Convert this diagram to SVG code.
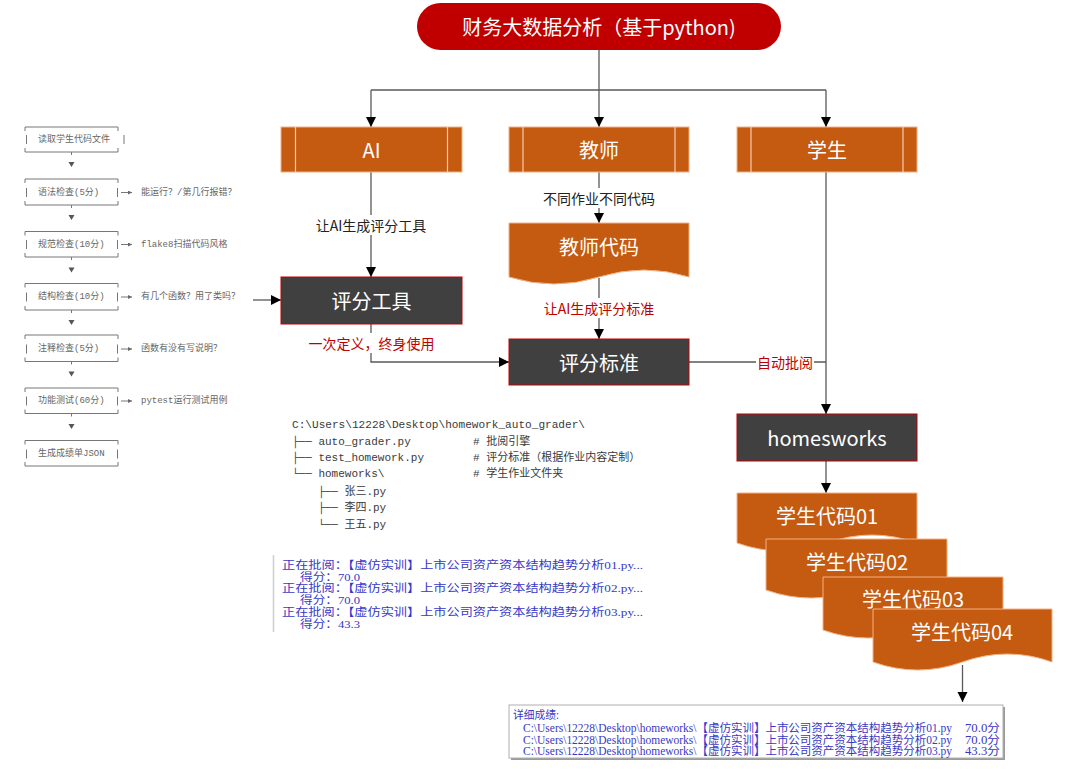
<svg xmlns="http://www.w3.org/2000/svg" width="1080" height="774" viewBox="0 0 1080 774">
<defs>
<style>
.orange{fill:#C55A11;stroke:#F4B183;stroke-width:1}
.inner{stroke:#F8CBAD;stroke-width:1.2;fill:none}
.dark{fill:#404040;stroke:#C00000;stroke-width:1}
.wt{fill:#fff;font-family:"Noto Sans CJK SC","Noto Sans",sans-serif;font-size:20px;text-anchor:middle;dominant-baseline:central}
.conn{stroke:#595959;stroke-width:1.3;fill:none}
.lbl{font-family:"Noto Sans CJK SC",sans-serif;font-size:14px;text-anchor:middle;dominant-baseline:central}
.red{fill:#C00000}
.blk{fill:#222}
.pf{stroke:#777;stroke-width:1;fill:none}
.pft{font-family:"Liberation Mono","Noto Sans CJK SC",monospace;font-size:9px;fill:#666;dominant-baseline:central}
.tree{font-family:"Liberation Mono","DejaVu Sans Mono","Noto Sans CJK SC",monospace;font-size:11px;fill:#3a3a3a;dominant-baseline:central}
.con{font-family:"Liberation Serif","Noto Sans CJK SC",serif;fill:#3838C8;dominant-baseline:central}
</style>
<marker id="arr" markerUnits="userSpaceOnUse" markerWidth="11" markerHeight="11" refX="10" refY="5" orient="auto">
<path d="M0,0 L10,5 L0,10 z" fill="#000"/>
</marker>
<marker id="sarr" markerUnits="userSpaceOnUse" markerWidth="5" markerHeight="5" refX="4" refY="2" orient="auto">
<path d="M0,0 L4,2 L0,4 z" fill="#666"/>
</marker>
</defs>
<rect width="1080" height="774" fill="#fff"/>

<g id="connectors">
<path class="conn" d="M599 50 V90"/>
<path class="conn" d="M371 90 H826"/>
<path class="conn" d="M371 90 V127" marker-end="url(#arr)"/>
<path class="conn" d="M599 90 V127" marker-end="url(#arr)"/>
<path class="conn" d="M826 90 V127" marker-end="url(#arr)"/>
<path class="conn" d="M371 172 V277" marker-end="url(#arr)"/>
<path class="conn" d="M599 172 V223" marker-end="url(#arr)"/>
<path class="conn" d="M599 278 V339" marker-end="url(#arr)"/>
<path class="conn" d="M371 324 V362 H509" marker-end="url(#arr)"/>
<path class="conn" d="M689 362 H826"/>
<path class="conn" d="M826 172 V414" marker-end="url(#arr)"/>
<path class="conn" d="M826 461 V493" marker-end="url(#arr)"/>
<path class="conn" d="M962.5 665 V702" marker-end="url(#arr)"/>
<path class="conn" d="M253 300 H281" marker-end="url(#arr)"/>
<rect x="314" y="215" width="115" height="20" fill="#fff"/>
<text class="lbl blk" x="371" y="225">让AI生成评分工具</text>
<rect x="543" y="188" width="112" height="20" fill="#fff"/>
<text class="lbl blk" x="599" y="198">不同作业不同代码</text>
<rect x="541" y="298" width="116" height="20" fill="#fff"/>
<text class="lbl red" x="599" y="308">让AI生成评分标准</text>
<rect x="309" y="333" width="125" height="20" fill="#fff"/>
<text class="lbl red" x="371.5" y="343">一次定义，终身使用</text>
<rect x="756" y="352" width="58" height="20" fill="#fff"/>
<text class="lbl red" x="785" y="362">自动批阅</text>
</g>

<g id="title">
<rect x="417" y="3" width="364" height="47" rx="23.5" fill="#C00000"/>
<text class="wt" x="599" y="26.5">财务大数据分析（基于python)</text>
</g>

<g id="ai">
<rect class="orange" x="281" y="127" width="181" height="45"/>
<path class="inner" d="M295.5 127 V172 M447.5 127 V172"/>
<text class="wt" x="371.5" y="149.5">AI</text>
</g>
<g id="teacher">
<rect class="orange" x="509" y="127" width="180" height="45"/>
<path class="inner" d="M523 127 V172 M675 127 V172"/>
<text class="wt" x="599" y="149.5">教师</text>
</g>
<g id="student">
<rect class="orange" x="737" y="127" width="180" height="45"/>
<path class="inner" d="M751 127 V172 M903 127 V172"/>
<text class="wt" x="827" y="149.5">学生</text>
</g>

<g id="grading-tool">
<rect class="dark" x="281" y="277" width="181" height="47"/>
<text class="wt" x="371.5" y="300.5">评分工具</text>
</g>
<g id="teacher-code">
<path class="orange" d="M509 223 H689 V277 Q644 263 599 277 Q554 291 509 277 Z"/>
<text class="wt" x="599" y="246.5">教师代码</text>
</g>
<g id="grading-standard">
<rect class="dark" x="509" y="339" width="180" height="46"/>
<text class="wt" x="599" y="362">评分标准</text>
</g>
<g id="homesworks">
<rect class="dark" x="737" y="414" width="180" height="47"/>
<text class="wt" x="827" y="437.5">homesworks</text>
</g>

<g id="student-code-01">
<path class="orange" d="M737 493 H917 V543 Q872 527 827 543 Q782 559 737 543 Z"/>
<text class="wt" x="827" y="515">学生代码01</text>
</g>
<g id="student-code-02">
<path class="orange" d="M766 539 H947 V590 Q901.75 574 856.5 590 Q811.25 606 766 590 Z"/>
<text class="wt" x="857" y="561.5">学生代码02</text>
</g>
<g id="student-code-03">
<path class="orange" d="M823 577 H1003 V630 Q958 614 913 630 Q868 646 823 630 Z"/>
<text class="wt" x="913" y="598">学生代码03</text>
</g>
<g id="student-code-04">
<path class="orange" d="M873 609 H1052 V662 Q1007.25 646 962.5 662 Q917.75 678 873 662 Z"/>
<text class="wt" x="962" y="631.5">学生代码04</text>
</g>

<g id="process-flow">
<g class="pf">
<path d="M25 131 V127 H118 V131 M25 148 V152 H118 V148 M26.5 135 V144 M124 135 V144 M71.5 152 V155"/>
<path d="M25 183 V179 H118 V183 M25 201 V205 H118 V201 M26.5 188 V197 M117.5 188 V197 M71.5 205 V208"/>
<path d="M25 235.5 V231.5 H118 V235.5 M25 253 V257 H118 V253 M26.5 240 V249 M117.5 240 V249 M71.5 257 V260"/>
<path d="M25 287.5 V283.5 H118 V287.5 M25 306 V310 H118 V306 M26.5 292.5 V301.5 M117.5 292.5 V301.5 M71.5 310 V313"/>
<path d="M25 339 V335 H118 V339 M25 357.5 V361.5 H118 V357.5 M26.5 344.5 V353.5 M117.5 344.5 V353.5 M71.5 361.5 V364.5"/>
<path d="M25 392 V388 H118 V392 M25 409.5 V413.5 H118 V409.5 M26.5 396.5 V405.5 M117.5 396.5 V405.5 M71.5 413.5 V416.5"/>
<path d="M25 444.5 V440.5 H118 V444.5 M25 462 V466 H118 V462 M26.5 449.5 V458.5 M117.5 449.5 V458.5"/>
<path d="M121 192.5 H132" marker-end="url(#sarr)"/>
<path d="M121 244.5 H132" marker-end="url(#sarr)"/>
<path d="M121 297 H132" marker-end="url(#sarr)"/>
<path d="M121 349 H132" marker-end="url(#sarr)"/>
<path d="M121 401 H132" marker-end="url(#sarr)"/>
</g>
<g fill="#555">
<path d="M68.5 162 H74.5 L71.5 167 Z"/>
<path d="M68.5 215 H74.5 L71.5 220 Z"/>
<path d="M68.5 267.5 H74.5 L71.5 272.5 Z"/>
<path d="M68.5 320 H74.5 L71.5 325 Z"/>
<path d="M68.5 371.5 H74.5 L71.5 376.5 Z"/>
<path d="M68.5 424 H74.5 L71.5 429 Z"/>
</g>
<text class="pft" x="38" y="140">读取学生代码文件</text>
<text class="pft" x="38" y="192.5">语法检查(5分)</text>
<text class="pft" x="38" y="244.5">规范检查(10分)</text>
<text class="pft" x="38" y="297">结构检查(10分)</text>
<text class="pft" x="38" y="349">注释检查(5分)</text>
<text class="pft" x="38" y="401">功能测试(60分)</text>
<text class="pft" x="38" y="454">生成成绩单JSON</text>
<text class="pft" x="141" y="192.5">能运行？/第几行报错？</text>
<text class="pft" x="141" y="244.5">flake8扫描代码风格</text>
<text class="pft" x="141" y="297">有几个函数？用了类吗？</text>
<text class="pft" x="141" y="349">函数有没有写说明？</text>
<text class="pft" x="141" y="401">pytest运行测试用例</text>
</g>

<g id="file-tree">
<text class="tree" x="292" y="425" textLength="293" lengthAdjust="spacingAndGlyphs">C:\Users\12228\Desktop\homework_auto_grader\</text>
<text class="tree" x="292" y="441.5">├── auto_grader.py</text>
<text class="tree" x="292" y="458">├── test_homework.py</text>
<text class="tree" x="292" y="474">└── homeworks\</text>
<text class="tree" x="318" y="491.5">├── 张三.py</text>
<text class="tree" x="318" y="508">├── 李四.py</text>
<text class="tree" x="318" y="525">└── 王五.py</text>
<text class="tree" x="473" y="441.5"># 批阅引擎</text>
<text class="tree" x="473" y="458"># 评分标准（根据作业内容定制）</text>
<text class="tree" x="473" y="474"># 学生作业文件夹</text>
</g>

<g id="console-run">
<path d="M273.5 555 V632" stroke="#cfcfcf" stroke-width="1.5"/>
<text class="con" font-size="11" x="282" y="565" textLength="361" lengthAdjust="spacingAndGlyphs">正在批阅：【虚仿实训】上市公司资产资本结构趋势分析01.py...</text>
<text class="con" font-size="11" x="300" y="576.7" textLength="60" lengthAdjust="spacingAndGlyphs">得分：70.0</text>
<text class="con" font-size="11" x="282" y="588.4" textLength="361" lengthAdjust="spacingAndGlyphs">正在批阅：【虚仿实训】上市公司资产资本结构趋势分析02.py...</text>
<text class="con" font-size="11" x="300" y="600.1" textLength="60" lengthAdjust="spacingAndGlyphs">得分：70.0</text>
<text class="con" font-size="11" x="282" y="611.8" textLength="361" lengthAdjust="spacingAndGlyphs">正在批阅：【虚仿实训】上市公司资产资本结构趋势分析03.py...</text>
<text class="con" font-size="11" x="300" y="623.5" textLength="60" lengthAdjust="spacingAndGlyphs">得分：43.3</text>
</g>

<g id="console-detail">
<rect x="511" y="707" width="494" height="53" fill="#9a9a9a"/>
<rect x="509" y="705" width="494" height="53" fill="#fff" stroke="#b0b0b0" stroke-width="1"/>
<text class="con" font-size="11.5" x="513" y="715" textLength="46" lengthAdjust="spacingAndGlyphs">详细成绩:</text>
<text class="con" font-size="11.5" x="523" y="728.3" textLength="429" lengthAdjust="spacingAndGlyphs">C:\Users\12228\Desktop\homeworks\【虚仿实训】上市公司资产资本结构趋势分析01.py</text>
<text class="con" font-size="11.5" x="523" y="739.6" textLength="429" lengthAdjust="spacingAndGlyphs">C:\Users\12228\Desktop\homeworks\【虚仿实训】上市公司资产资本结构趋势分析02.py</text>
<text class="con" font-size="11.5" x="523" y="750.8" textLength="429" lengthAdjust="spacingAndGlyphs">C:\Users\12228\Desktop\homeworks\【虚仿实训】上市公司资产资本结构趋势分析03.py</text>
<text class="con" font-size="11.5" x="965" y="728.3" textLength="35" lengthAdjust="spacingAndGlyphs">70.0分</text>
<text class="con" font-size="11.5" x="965" y="739.6" textLength="35" lengthAdjust="spacingAndGlyphs">70.0分</text>
<text class="con" font-size="11.5" x="965" y="750.8" textLength="35" lengthAdjust="spacingAndGlyphs">43.3分</text>
</g>
</svg>
